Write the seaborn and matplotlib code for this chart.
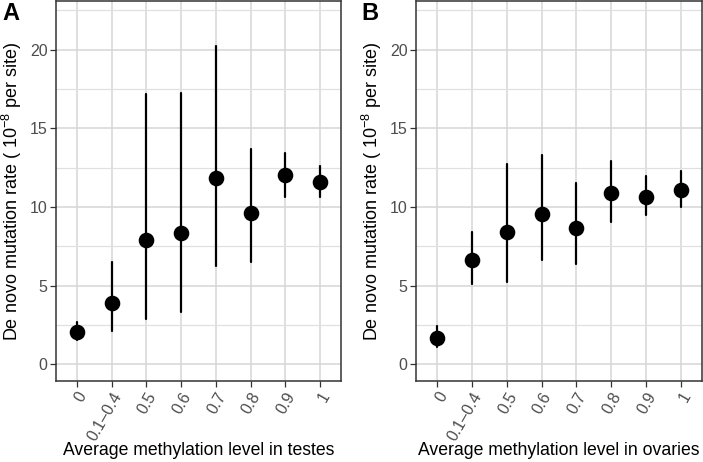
import numpy as np
import pandas as pd
import matplotlib
matplotlib.use("Agg")
from matplotlib import pyplot as plt
import seaborn as sns

# methylation level categories (x axis)
levels = ["0", "0.1\u20130.4", "0.5", "0.6", "0.7", "0.8", "0.9", "1"]

# panel A: testes
testes_rate = [2.07, 3.90, 7.89, 8.38, 11.82, 9.64, 12.03, 11.62]
testes_low = [1.58, 2.11, 2.89, 3.35, 6.29, 6.52, 10.65, 10.65]
testes_high = [2.68, 6.54, 17.20, 17.28, 20.25, 13.67, 13.46, 12.64]

# panel B: ovaries
ovaries_rate = [1.68, 6.63, 8.42, 9.54, 8.65, 10.87, 10.65, 11.12]
ovaries_low = [1.12, 5.13, 5.27, 6.63, 6.37, 9.03, 9.47, 9.98]
ovaries_high = [2.44, 8.44, 12.72, 13.29, 11.52, 12.93, 11.96, 12.30]


def long_frame(rate, low, high):
    # three rows per category: the estimate is the median, the range is min..max
    return pd.DataFrame({
        "level": levels * 3,
        "value": list(low) + list(rate) + list(high),
    })


sns.set_theme(style="whitegrid")
plt.rcParams["font.family"] = ["Liberation Sans", "DejaVu Sans"]
plt.rcParams["mathtext.fontset"] = "custom"
plt.rcParams["mathtext.rm"] = "Liberation Sans"
plt.rcParams["mathtext.it"] = "Liberation Sans:italic"

fig = plt.figure(figsize=(7.03, 4.62), dpi=100)
ax_a = fig.add_axes([56 / 703, 81 / 462, 285 / 703, 380 / 462])
ax_b = fig.add_axes([416 / 703, 81 / 462, 286 / 703, 380 / 462])

panels = [
    (ax_a, long_frame(testes_rate, testes_low, testes_high),
     "Average methylation level in testes", "A", 2 / 703),
    (ax_b, long_frame(ovaries_rate, ovaries_low, ovaries_high),
     "Average methylation level in ovaries", "B", 361 / 703),
]

for ax, df, xlabel, tag, tag_x in panels:
    sns.pointplot(data=df, x="level", y="value", order=levels,
                  estimator="median",
                  errorbar=lambda v: (v.min(), v.max()),
                  color="black", linestyle="none", marker="o",
                  markersize=9.2, err_kws={"linewidth": 1.6},
                  ax=ax)
    ax.set_xlim(-0.6, len(levels) - 1 + 0.6)
    ax.set_ylim(-1.05, 23.1)
    ax.set_yticks([0, 5, 10, 15, 20])
    ax.set_yticks([2.5, 7.5, 12.5, 17.5, 22.5], minor=True)
    ax.grid(True, which="major", color="#D6D6D6", linewidth=1.1)
    ax.grid(True, which="minor", axis="y", color="#E0E0E0", linewidth=0.9)
    ax.set_axisbelow(True)
    ax.set_facecolor("white")
    for s in ax.spines.values():
        s.set_visible(True)
        s.set_color("#333333")
        s.set_linewidth(1.1)
    ax.tick_params(axis="both", which="major", length=4, width=0.9,
                   color="#333333", labelsize=11.5, labelcolor="#4D4D4D",
                   bottom=True, left=True, pad=2)
    ax.tick_params(axis="both", which="minor", length=0)
    for lab in ax.get_xticklabels():
        lab.set_rotation(60)
        lab.set_ha("right")
        lab.set_rotation_mode("anchor")
    ax.set_xlabel(xlabel, fontsize=12.7, color="black")
    ax.xaxis.set_label_coords(0.5, -0.16)
    ax.set_ylabel("De novo mutation rate ( 10$^{-8}$ per site)",
                  fontsize=13, labelpad=4, color="black")
    fig.text(tag_x, 0.995, tag, fontsize=17, fontweight="bold",
             ha="left", va="top", color="black")

fig.savefig("out.png", dpi=100)
